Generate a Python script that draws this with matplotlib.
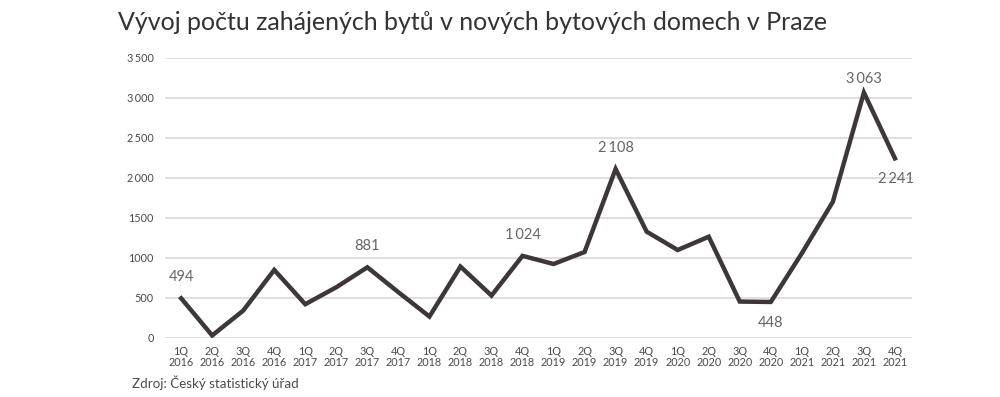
import matplotlib
matplotlib.use('Agg')
import matplotlib.pyplot as plt
import numpy as np

# data
quarters = ['1Q', '2Q', '3Q', '4Q'] * 6
years = [str(y) for y in range(2016, 2022) for _ in range(4)]
values = [494, 30, 340, 848, 420, 632, 881, 570, 266, 890, 528, 1024,
          922, 1072, 2108, 1326, 1097, 1263, 453, 448, 1056, 1700, 3063, 2241]
yticks = [0, 500, 1000, 1500, 2000, 2500, 3000, 3500]
ytick_labels = ['0', '500', '1000', '1500', '2\u2009000', '2\u2009500', '3\u2009000', '3\u2009500']

# labelled points: index, text, offset in points, vertical alignment
labels = [(0, '494', (0, 10), 'bottom'), (6, '881', (0, 10), 'bottom'),
          (11, '1\u2009024', (0, 10), 'bottom'), (14, '2\u2009108', (0, 10), 'bottom'),
          (19, '448', (0, -10), 'top'), (22, '3\u2009063', (0, 5), 'bottom'),
          (23, '2\u2009241', (1, -10), 'top')]

plt.rcParams['font.family'] = ['Lato', 'DejaVu Sans']

line_col = '#3f3638'
text_col = '#4a4a4a'

fig = plt.figure(figsize=(10, 3.97), dpi=100)
ax = fig.add_axes([0.165, 0.149, 0.747, 0.706])

x = np.arange(len(values))
ax.plot(x, values, color=line_col, lw=3.2, solid_joinstyle='miter', zorder=3)

for i, txt, off, va in labels:
    ax.annotate(txt, (x[i], values[i]), xytext=off, textcoords='offset points',
                ha='center', va=va, fontsize=10.5, color='#666666')

ax.set_ylim(0, 3500)
ax.set_xlim(-0.52, 23.55)
ax.set_yticks(yticks)
ax.set_yticklabels(ytick_labels)
ax.set_xticks(x)
ax.set_xticklabels([q + '\n' + y for q, y in zip(quarters, years)], linespacing=1.0)
ax.tick_params(axis='both', length=0, labelsize=7.8, labelcolor=text_col)
ax.tick_params(axis='y', pad=8)
ax.tick_params(axis='x', pad=6)
ax.grid(axis='y', color='#d9d9d9', lw=1.2)
ax.set_axisbelow(True)
for s in ax.spines.values():
    s.set_visible(False)

fig.text(0.118, 0.943, 'Vývoj počtu zahájených bytů v nových bytových domech v Praze',
         fontsize=18, color='#333333', va='center')
fig.text(0.132, 0.035, 'Zdroj: Český statistický úřad', fontsize=9.6, color=text_col,
         va='center')

fig.savefig('out.png', dpi=100)
